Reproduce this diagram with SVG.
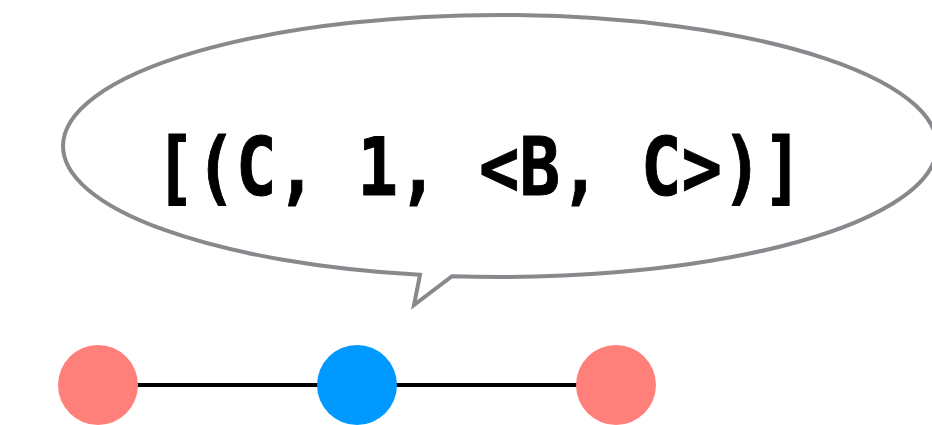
<svg xmlns="http://www.w3.org/2000/svg" width="932" height="425" viewBox="0 0 932 425">
<style>
.bubble{fill:#fff;stroke:#87898c;stroke-width:4;stroke-linejoin:miter}
.edge{stroke:#000;stroke-width:4}
.red{fill:#ff7f7a}
.blue{fill:#0099ff}
.lbl{font-family:"DejaVu Sans Mono","Liberation Mono",monospace;font-weight:bold;font-size:80px;fill:#000;stroke:#000;stroke-width:1}
</style>
<rect width="932" height="425" fill="#fff"/>
<g id="bubble">
<path class="bubble" d="M420,274.8 L414,305 L452,276.2 A437,131 0 1 0 63,146 A437,131 0 0 0 420,274.8 Z"/>
<text class="lbl" x="479" y="195" text-anchor="middle" textLength="648" lengthAdjust="spacingAndGlyphs">[(C, 1, &lt;B, C&gt;)]</text>
</g>
<g id="connectors">
<line class="edge" x1="98" y1="385" x2="357" y2="385"/>
<line class="edge" x1="357" y1="385" x2="616" y2="385"/>
</g>
<g id="nodeA"><circle class="red" cx="98" cy="385" r="40"/></g>
<g id="nodeB"><circle class="blue" cx="357" cy="385" r="40"/></g>
<g id="nodeC"><circle class="red" cx="616" cy="385" r="40"/></g>
</svg>
